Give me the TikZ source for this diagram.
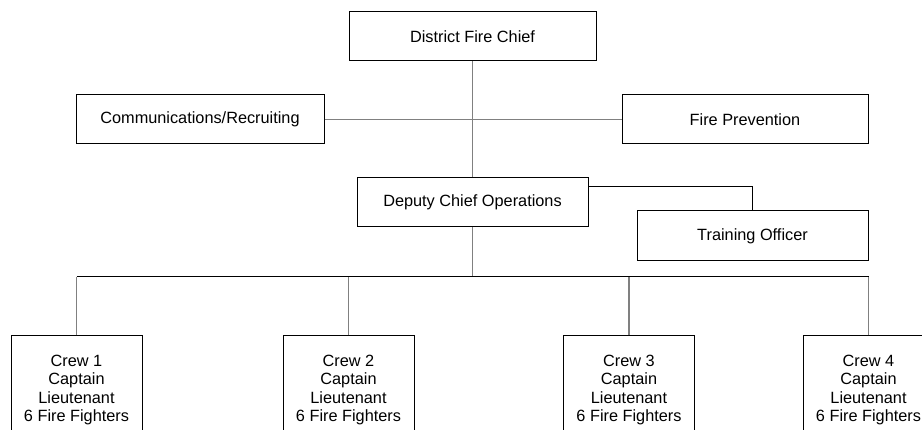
\documentclass[tikz,border=0pt]{standalone}
\usepackage{fontspec}
\setmainfont{Liberation Sans}
\usetikzlibrary{
  calc,
  positioning,
}
\tikzset{
  orgbox/.style={
    draw=black,
    line width=1pt,
    minimum height=49pt,
    inner sep=0pt,
    font=\fontsize{16.3}{18.3}\selectfont
  },
  crewbox/.style={orgbox, minimum width=131pt, minimum height=108pt, align=center},
  link/.style={draw=gray, line width=1.3pt},
  bar/.style={draw=black, line width=1pt},
}

\begin{document}
\begin{tikzpicture}[x=1pt,y=-1pt]
      \useasboundingbox (0,0) rectangle (922,430);
      \clip (0,0) rectangle (922,430);

      \node [orgbox, minimum width=247pt] at (472.5,36.5) (chief) {District Fire Chief};
      \node [orgbox, minimum width=248pt] at (200,119.5) (comm) {Communications/Recruiting};
      \node [orgbox, minimum width=246pt] at (745,119.5) (prevention) {Fire Prevention};
      \node [orgbox, minimum width=231pt] at (472.5,202.5) (deputy) {Deputy Chief Operations};
      \node [orgbox, minimum width=231pt, minimum height=50pt] at (752.5,236) (training) {Training Officer};

      \node [crewbox] at (76.5,390) (crew1) {Crew 1\\Captain\\Lieutenant\\6 Fire Fighters};
      \node [crewbox] at (348.5,390) (crew2) {Crew 2\\Captain\\Lieutenant\\6 Fire Fighters};
      \node [crewbox] at (629,390) (crew3) {Crew 3\\Captain\\Lieutenant\\6 Fire Fighters};
      \node [crewbox] at (868.5,390) (crew4) {Crew 4\\Captain\\Lieutenant\\6 Fire Fighters};

      \draw [link] (chief) -- (deputy);
      \draw [link] (comm) -- (prevention);

      \coordinate (toTraining) at ([yshift=-9pt]deputy.north east);
      \draw [bar] (toTraining) -| (training.north);

      \coordinate (bus) at (472.5,277);
      \draw [link] (deputy.south) -- (bus);
      \draw [bar] (crew1.north |- bus) -- (crew4.north |- bus);
      \foreach \i in {1,...,4}
        \draw [link] (crew\i.north) -- (crew\i.north |- bus);
\end{tikzpicture}
\end{document}
